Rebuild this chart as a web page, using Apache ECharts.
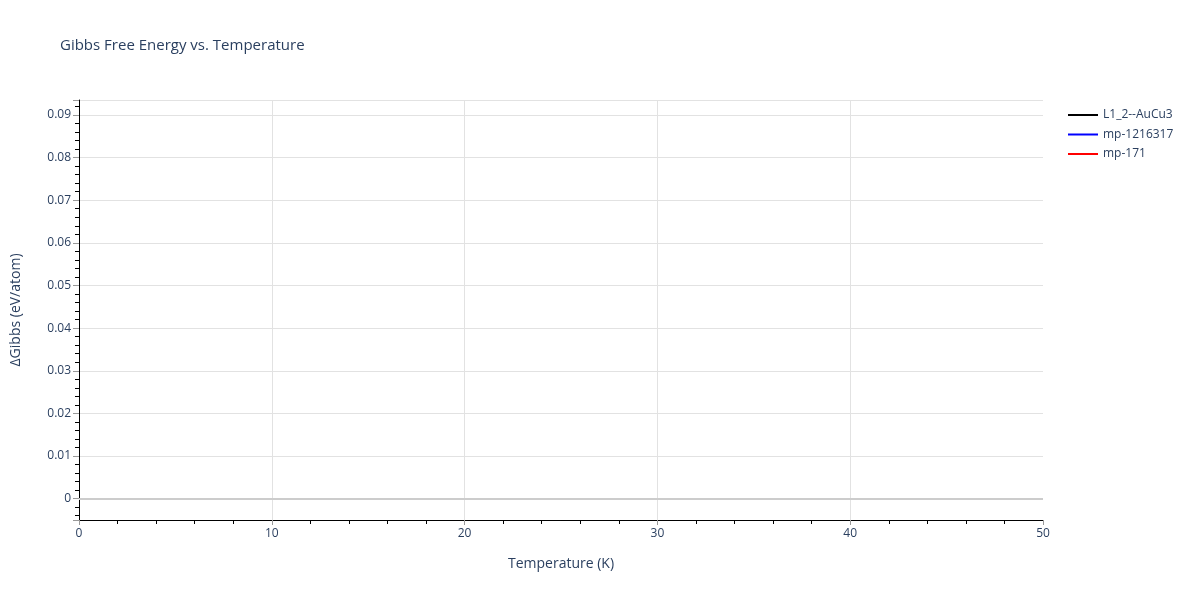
<!DOCTYPE html>
<html>
<head>
<meta charset="utf-8">
<script src="https://cdn.jsdelivr.net/npm/echarts@6/dist/echarts.min.js"></script>
<style>
  html, body { margin: 0; padding: 0; background: #fff; }
  #chart { width: 1200px; height: 600px; }
</style>
</head>
<body>
<div id="chart"></div>
<script>
// series names as in the legend; no points are drawn inside the plot
const seriesNames = ['L1_2--AuCu3', 'mp-1216317', 'mp-171'];
const seriesColors = ['#000000', '#0000ff', '#ff0000'];
const auCu3Data = [];
const mp1216317Data = [];
const mp171Data = [];
const seriesData = [auCu3Data, mp1216317Data, mp171Data];

const textColor = '#2a3f5f';
const gridColor = '#e2e2e2';

let myChart = echarts.init(document.getElementById('chart'));

myChart.setOption({
  animation: false,
  textStyle: { fontFamily: 'Open Sans', color: textColor },
  title: {
    text: 'Gibbs Free Energy vs. Temperature',
    left: 55,
    top: 33,
    textStyle: { fontFamily: 'Open Sans', fontSize: 15, fontWeight: 'normal', color: textColor }
  },
  legend: {
    orient: 'vertical',
    left: 1068,
    top: 108,
    padding: 0,
    itemWidth: 30,
    itemHeight: 2,
    itemGap: 5.5,
    data: seriesNames.map((n, i) => ({ name: n, icon: 'rect', itemStyle: { color: seriesColors[i] } })),
    textStyle: { fontFamily: 'Open Sans', fontSize: 12, color: textColor, lineHeight: 14 }
  },
  grid: { left: 79, right: 157, top: 100, bottom: 80 },
  xAxis: {
    type: 'value',
    min: 0,
    max: 50,
    interval: 10,
    name: 'Temperature (K)',
    nameLocation: 'middle',
    nameGap: 37,
    nameTextStyle: { fontFamily: 'Open Sans', fontSize: 14, color: textColor },
    axisLine: { show: true, onZero: false, lineStyle: { color: '#000', width: 1 } },
    axisTick: { show: true, length: 5, lineStyle: { color: '#999' } },
    minorTick: { show: true, splitNumber: 5, length: 4, lineStyle: { color: '#000' } },
    axisLabel: { fontFamily: 'Open Sans', fontSize: 12, color: textColor, margin: 8 },
    splitLine: { show: true, lineStyle: { color: ['transparent', gridColor, gridColor, gridColor, gridColor, 'transparent'] } }
  },
  yAxis: {
    type: 'value',
    min: -0.005,
    max: 0.0935,
    splitNumber: 10,
    name: '\u0394Gibbs (eV/atom)',
    nameLocation: 'middle',
    nameGap: 56,
    nameTextStyle: { fontFamily: 'Open Sans', fontSize: 14, color: textColor },
    axisLine: { show: true, onZero: false, lineStyle: { color: '#000', width: 1 } },
    axisTick: { show: true, length: 6, lineStyle: { color: '#999' } },
    minorTick: { show: true, splitNumber: 5, length: 4, lineStyle: { color: '#000' } },
    axisLabel: {
      fontFamily: 'Open Sans', fontSize: 12, color: textColor, margin: 8,
      showMinLabel: false, showMaxLabel: false,
      formatter: v => {
        const k = Math.round(v * 100);
        if (Math.abs(v * 100 - k) > 1e-6) return '';
        return k === 0 ? '0' : (k / 100).toFixed(2);
      }
    },
    splitLine: { show: true, lineStyle: { color: gridColor } }
  },
  series: seriesNames.map((n, i) => ({
    name: n,
    type: 'line',
    symbol: 'none',
    color: seriesColors[i],
    lineStyle: { width: 2 },
    data: seriesData[i],
    markLine: i === 0 ? {
      silent: true,
      symbol: 'none',
      label: { show: false },
      lineStyle: { color: '#cccccc', width: 2, type: 'solid' },
      data: [{ yAxis: 0 }]
    } : undefined
  }))
});
</script>
</body>
</html>
